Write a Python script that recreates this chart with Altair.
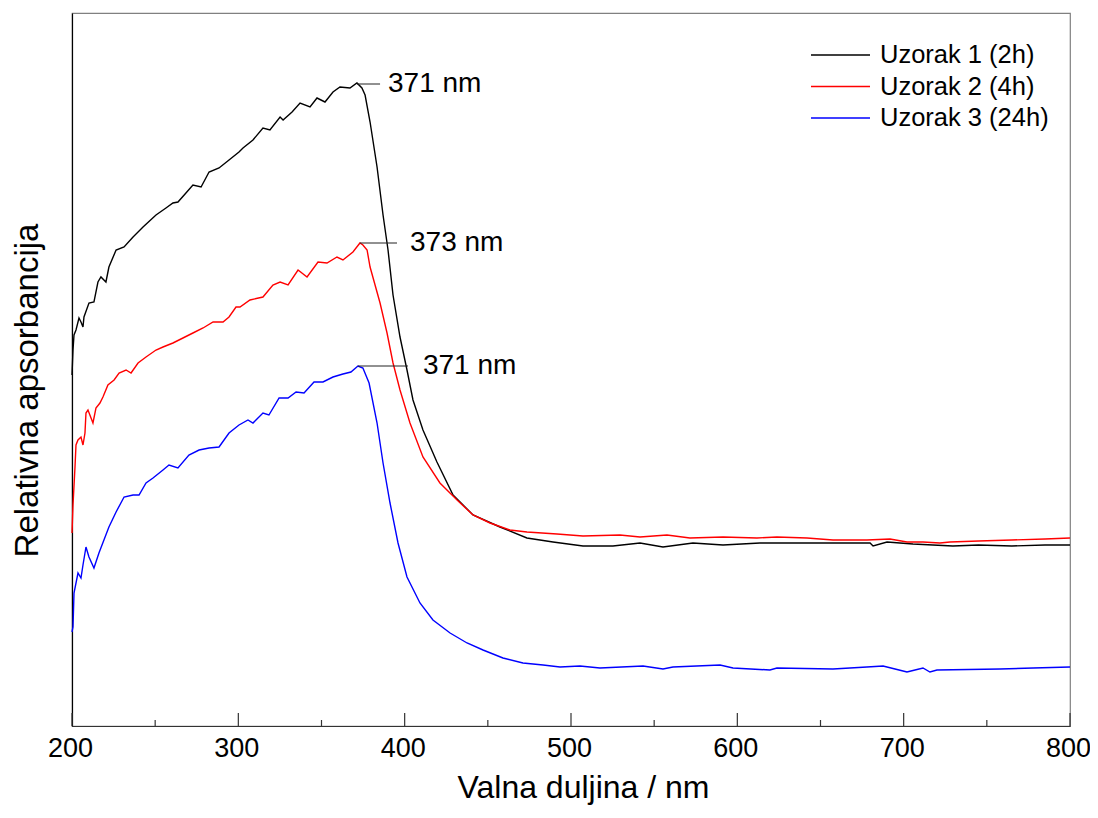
import altair as alt
import pandas as pd

# ---------------- data ----------------
series_names = ["Uzorak 1 (2h)", "Uzorak 2 (4h)", "Uzorak 3 (24h)"]
series_colors = ["#000000", "#ff0000", "#0000ff"]

wl_1 = [200.0, 200.6, 201.2, 202.4, 204.2, 205.4, 206.6, 207.2, 210.2, 213.2,
        215.6, 217.4, 220.4, 222.2, 226.5, 231.3, 236.7, 242.7, 250.5, 256.5,
        260.7, 263.7, 268.5, 272.7, 277.6, 282.4, 288.4, 294.4, 300.4, 302.8,
        308.8, 314.8, 319.0, 325.1, 326.9, 332.3, 337.1, 343.1, 347.3, 352.1,
        356.9, 361.1, 367.1, 371.3, 374.3, 376.2, 379.2, 383.4, 387.0, 390.0,
        393.0, 397.2, 401.4, 405.0, 411.0, 419.4, 429.1, 441.1, 457.3, 473.5,
        489.2, 507.2, 525.2, 541.5, 555.3, 573.3, 591.4, 613.6, 631.7, 651.5,
        679.8, 681.6, 690.0, 705.6, 717.6, 729.6, 745.0, 765.0, 785.0, 800.0]
abs_1 = [351, 376, 391, 396, 408, 404, 399, 409, 423, 424,
         444, 449, 444, 459, 476, 479, 489, 499, 511, 518,
         523, 524, 533, 541, 539, 554, 558, 566, 574, 578,
         586, 598, 596, 609, 606, 614, 623, 619, 628, 624,
         634, 639, 638, 643, 638, 631, 604, 559, 511, 476,
         431, 389, 356, 326, 296, 264, 231, 211, 199, 188,
         184, 180, 180, 183, 179, 183, 181, 183, 183, 183,
         183, 180, 184, 182, 181, 180, 181, 180, 181, 181]

wl_2 = [200.0, 200.6, 201.8, 202.4, 203.6, 205.4, 206.6, 207.8, 208.4, 209.6,
        212.6, 214.4, 216.8, 218.6, 221.6, 225.3, 228.3, 232.5, 235.5, 239.7,
        244.5, 250.5, 254.7, 260.7, 266.7, 272.7, 278.8, 284.8, 290.8, 294.4,
        298.6, 301.0, 307.0, 314.8, 320.8, 325.1, 329.9, 335.9, 341.3, 347.9,
        353.3, 359.3, 362.9, 368.9, 373.1, 374.9, 377.4, 379.2, 385.2, 389.4,
        393.0, 397.2, 403.2, 411.0, 421.2, 431.5, 441.1, 451.3, 463.3, 473.5,
        491.6, 507.2, 529.4, 541.5, 557.7, 571.5, 591.4, 611.8, 623.8, 641.9,
        657.5, 677.9, 691.8, 702.0, 711.6, 721.8, 727.8, 745.0, 765.0, 785.0,
        800.0]
abs_2 = [193, 221, 259, 281, 286, 289, 281, 293, 313, 316,
         303, 318, 323, 329, 341, 346, 353, 356, 353, 363,
         369, 376, 379, 383, 388, 393, 398, 404, 404, 409,
         419, 419, 426, 429, 441, 444, 441, 456, 449, 464,
         463, 469, 466, 474, 483, 481, 476, 459, 423, 393,
         363, 336, 303, 269, 243, 226, 211, 203, 196, 194,
         192, 190, 191, 189, 191, 188, 189, 188, 189, 188,
         186, 186, 187, 184, 184, 183, 184, 185, 186, 187,
         188]

wl_3 = [200.0, 200.6, 201.2, 203.6, 205.4, 206.6, 208.4, 210.2, 213.2, 216.2,
        219.2, 222.2, 226.5, 231.3, 236.7, 240.3, 244.5, 248.7, 254.7, 258.3,
        263.7, 270.3, 276.4, 282.4, 288.4, 294.4, 300.4, 305.8, 308.8, 314.8,
        318.4, 324.5, 329.9, 334.7, 339.5, 345.5, 350.9, 356.9, 362.9, 367.7,
        371.9, 374.9, 378.6, 383.4, 387.0, 391.2, 396.0, 401.4, 409.2, 417.0,
        427.3, 437.5, 447.1, 459.1, 471.1, 483.2, 493.4, 505.4, 517.4, 543.3,
        555.3, 561.3, 589.6, 597.4, 619.6, 623.8, 657.5, 677.9, 687.6, 702.0,
        711.6, 715.8, 720.0, 757.9, 777.8, 800.0]
abs_3 = [94, 99, 133, 153, 148, 161, 179, 169, 158, 173,
         186, 199, 214, 229, 231, 231, 243, 248, 256, 261,
         258, 271, 276, 278, 279, 293, 301, 306, 303, 313,
         311, 328, 328, 334, 333, 344, 344, 349, 352, 354,
         360, 358, 343, 303, 263, 223, 183, 149, 123, 106,
         93, 83, 76, 68, 63, 61, 59, 60, 58, 60,
         57, 59, 61, 58, 56, 58, 57, 59, 60, 54,
         58, 54, 56, 57, 58, 59]

# peak annotations
ann_text = ["371 nm", "373 nm", "371 nm"]
ann_peak_wl = [371.3, 373.1, 371.9]
ann_peak_abs = [642, 483, 360]
ann_line_end = [385.2, 395.4, 402.0]
ann_text_wl = [390.0, 403.2, 411.0]

x_tick_major = [200, 300, 400, 500, 600, 700, 800]
x_tick_minor = [250, 350, 450, 550, 650, 750]

# ---------------- build tables ----------------
rows = []
for name, wls, vals in zip(series_names, [wl_1, wl_2, wl_3], [abs_1, abs_2, abs_3]):
    for w, v in zip(wls, vals):
        rows.append({"wl": w, "a": v, "s": name})
df = pd.DataFrame(rows)

ann_df = pd.DataFrame({"label": ann_text, "px": ann_peak_wl, "py": ann_peak_abs,
                       "lx": ann_line_end, "tx": ann_text_wl})
major_df = pd.DataFrame({"t": x_tick_major})
minor_df = pd.DataFrame({"t": x_tick_minor})

FONT = "Liberation Sans"
W, H = 998, 713

xscale = alt.Scale(domain=[200, 800], nice=False, zero=False)
yscale = alt.Scale(domain=[0, 713], nice=False, zero=True)

lines = alt.Chart(df).mark_line(strokeWidth=1.4).encode(
    x=alt.X("wl:Q", scale=xscale,
            axis=alt.Axis(values=x_tick_major, ticks=False, grid=False,
                          labelFontSize=27, labelPadding=9, labelFlush=False,
                          labelOffset=-2,
                          labelFont=FONT, labelColor="black",
                          title="Valna duljina / nm", titleFont=FONT,
                          titleFontSize=32, titleFontWeight="normal",
                          titleColor="black", titleX=511, titleY=46,
                          domainColor="#333333", domainWidth=1.2)),
    y=alt.Y("a:Q", scale=yscale,
            axis=alt.Axis(labels=False, ticks=False, grid=False,
                          title="Relativna apsorbancija", titleFont=FONT,
                          titleFontSize=33, titleFontWeight="normal",
                          titleColor="black", titleY=377, titleX=-28,
                          domainColor="#000000", domainWidth=1.2)),
    color=alt.Color("s:N", scale=alt.Scale(domain=series_names, range=series_colors),
                    legend=None),
)

major_ticks = alt.Chart(major_df).mark_rule(color="#333333", strokeWidth=1.2).encode(
    x=alt.X("t:Q", scale=xscale), y=alt.value(H), y2=alt.value(H - 13))
minor_ticks = alt.Chart(minor_df).mark_rule(color="#333333", strokeWidth=1.2).encode(
    x=alt.X("t:Q", scale=xscale), y=alt.value(H), y2=alt.value(H - 6))

ann_rules = alt.Chart(ann_df).mark_rule(color="#222222", strokeWidth=1).encode(
    x=alt.X("px:Q", scale=xscale), x2="lx:Q", y=alt.Y("py:Q", scale=yscale))
ann_texts = alt.Chart(ann_df).mark_text(align="left", baseline="middle", font=FONT,
                                        fontSize=28, color="black").encode(
    x=alt.X("tx:Q", scale=xscale), y=alt.Y("py:Q", scale=yscale), text="label:N")

one = pd.DataFrame({"k": [0]})
legend_layers = []
for i, (name, col) in enumerate(zip(series_names, series_colors)):
    yy = 42 + 31.5 * i
    legend_layers.append(alt.Chart(one).mark_rule(color=col, strokeWidth=1.4).encode(
        x=alt.value(739), x2=alt.value(798), y=alt.value(yy)))
    legend_layers.append(alt.Chart(one).mark_text(align="left", baseline="middle",
                                                   font=FONT, fontSize=25.5,
                                                   color="black").encode(
        x=alt.value(808), y=alt.value(yy), text=alt.value(name)))

chart = alt.layer(lines, major_ticks, minor_ticks, ann_rules, ann_texts,
                  *legend_layers).properties(
    width=W, height=H,
    autosize=alt.AutoSizeParams(type="none"),
    padding={"left": 64, "top": 5, "right": 20, "bottom": 84},
    background="white",
).configure_view(stroke="#808080", strokeWidth=1.2)

chart.save("out.html", embed_options={"renderer": "svg", "actions": False})
